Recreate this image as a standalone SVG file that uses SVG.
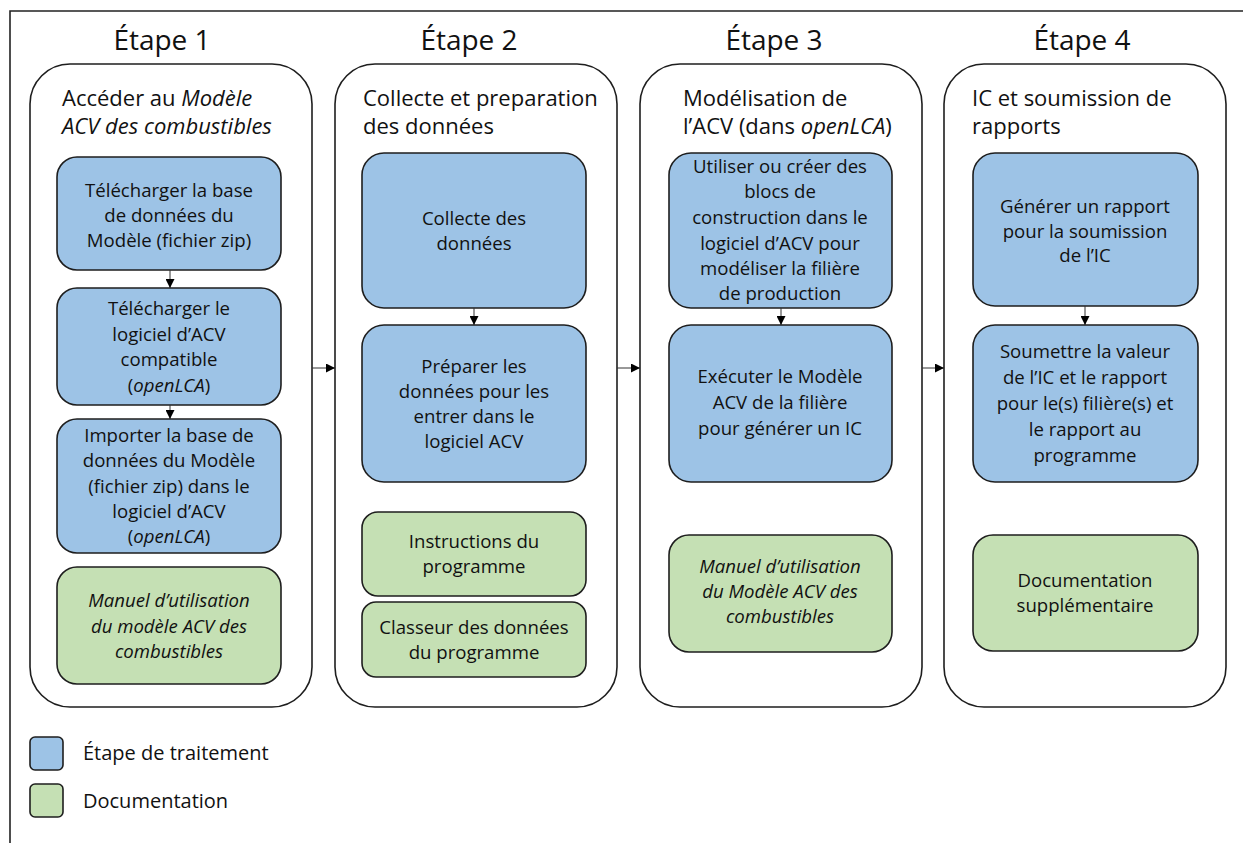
<svg xmlns="http://www.w3.org/2000/svg" width="1243" height="843" viewBox="0 0 1243 843">
<defs>
<style>
text{font-family:"Open Sans","Noto Sans","Liberation Sans",sans-serif;fill:#111}
.ttl{font-size:28px;text-anchor:middle}
.hdr{font-size:22px}
.bx{font-size:18.6px;text-anchor:middle}
.leg{font-size:20px}
.it{font-style:italic}
.panel{fill:#fff;stroke:#1e1e1e;stroke-width:1.6}
.blue{fill:#9DC3E6;stroke:#1e1e1e;stroke-width:1.6}
.green{fill:#C5E0B4;stroke:#1e1e1e;stroke-width:1.6}
.frame{fill:none;stroke:#222;stroke-width:1.6}
.conn{stroke:#333;stroke-width:1;fill:none;marker-end:url(#ah)}
</style>
<marker id="ah" viewBox="0 0 10 10" refX="10" refY="5" markerWidth="9" markerHeight="9" markerUnits="userSpaceOnUse" orient="auto">
<path d="M0,0 L10,5 L0,10 z" fill="#000"/>
</marker>
</defs>
<rect width="1243" height="843" fill="#fff"/>
<path class="frame" d="M10,843 L10,11 L1243,11"/>

<g id="titles">
<text class="ttl" x="162" y="50">Étape 1</text>
<text class="ttl" x="469" y="50">Étape 2</text>
<text class="ttl" x="774" y="50">Étape 3</text>
<text class="ttl" x="1082" y="50">Étape 4</text>
</g>

<g id="panel1">
<rect class="panel" x="30" y="64" width="282" height="643" rx="40"/>
<text class="hdr" x="62" y="106">Accéder au <tspan class="it">Modèle</tspan></text>
<text class="hdr it" x="62" y="134">ACV des combustibles</text>
</g>
<g id="panel2">
<rect class="panel" x="335" y="64" width="282" height="643" rx="40"/>
<text class="hdr" x="363" y="106">Collecte et preparation</text>
<text class="hdr" x="363" y="134">des données</text>
</g>
<g id="panel3">
<rect class="panel" x="640" y="64" width="282" height="643" rx="40"/>
<text class="hdr" x="683" y="106">Modélisation de</text>
<text class="hdr" x="683" y="134">l’ACV (dans <tspan class="it">openLCA</tspan>)</text>
</g>
<g id="panel4">
<rect class="panel" x="944" y="64" width="282" height="643" rx="40"/>
<text class="hdr" x="972" y="106">IC et soumission de</text>
<text class="hdr" x="972" y="134">rapports</text>
</g>

<g id="c1b1">
<rect class="blue" x="57" y="157" width="224" height="113" rx="20"/>
<text class="bx" x="169" y="197">Télécharger la base</text>
<text class="bx" x="169" y="222">de données du</text>
<text class="bx" x="169" y="247">Modèle (fichier zip)</text>
</g>
<g id="c1b2">
<rect class="blue" x="57" y="288" width="224" height="117" rx="20"/>
<text class="bx" x="169" y="315">Télécharger le</text>
<text class="bx" x="169" y="341">logiciel d’ACV</text>
<text class="bx" x="169" y="366">compatible</text>
<text class="bx" x="169" y="392">(<tspan class="it">openLCA</tspan>)</text>
</g>
<g id="c1b3">
<rect class="blue" x="57" y="419" width="224" height="134" rx="20"/>
<text class="bx" x="169" y="442">Importer la base de</text>
<text class="bx" x="169" y="467">données du Modèle</text>
<text class="bx" x="169" y="493">(fichier zip) dans le</text>
<text class="bx" x="169" y="518">logiciel d’ACV</text>
<text class="bx" x="169" y="543">(<tspan class="it">openLCA</tspan>)</text>
</g>
<g id="c1g">
<rect class="green" x="57" y="567" width="224" height="117" rx="20"/>
<text class="bx it" x="169" y="607">Manuel d’utilisation</text>
<text class="bx it" x="169" y="633">du modèle ACV des</text>
<text class="bx it" x="169" y="658">combustibles</text>
</g>

<g id="c2b1">
<rect class="blue" x="362" y="153" width="224" height="155" rx="22"/>
<text class="bx" x="474" y="225">Collecte des</text>
<text class="bx" x="474" y="250">données</text>
</g>
<g id="c2b2">
<rect class="blue" x="362" y="325" width="224" height="157" rx="22"/>
<text class="bx" x="474" y="373">Préparer les</text>
<text class="bx" x="474" y="398">données pour les</text>
<text class="bx" x="474" y="423">entrer dans le</text>
<text class="bx" x="474" y="448">logiciel ACV</text>
</g>
<g id="c2g1">
<rect class="green" x="362" y="512" width="224" height="84" rx="16"/>
<text class="bx" x="474" y="548">Instructions du</text>
<text class="bx" x="474" y="573">programme</text>
</g>
<g id="c2g2">
<rect class="green" x="362" y="602" width="224" height="75" rx="14"/>
<text class="bx" x="474" y="634">Classeur des données</text>
<text class="bx" x="474" y="659">du programme</text>
</g>

<g id="c3b1">
<rect class="blue" x="669" y="153" width="223" height="155" rx="22"/>
<text class="bx" x="780" y="173">Utiliser ou créer des</text>
<text class="bx" x="780" y="198">blocs de</text>
<text class="bx" x="780" y="224">construction dans le</text>
<text class="bx" x="780" y="250">logiciel d’ACV pour</text>
<text class="bx" x="780" y="275">modéliser la filière</text>
<text class="bx" x="780" y="300">de production</text>
</g>
<g id="c3b2">
<rect class="blue" x="669" y="325" width="223" height="157" rx="22"/>
<text class="bx" x="780" y="383">Exécuter le Modèle</text>
<text class="bx" x="780" y="409">ACV de la filière</text>
<text class="bx" x="780" y="435">pour générer un IC</text>
</g>
<g id="c3g">
<rect class="green" x="669" y="535" width="223" height="117" rx="20"/>
<text class="bx it" x="780" y="573">Manuel d’utilisation</text>
<text class="bx it" x="780" y="598">du Modèle ACV des</text>
<text class="bx it" x="780" y="623">combustibles</text>
</g>

<g id="c4b1">
<rect class="blue" x="973" y="153" width="225" height="153" rx="22"/>
<text class="bx" x="1085" y="213">Générer un rapport</text>
<text class="bx" x="1085" y="238">pour la soumission</text>
<text class="bx" x="1085" y="262">de l’IC</text>
</g>
<g id="c4b2">
<rect class="blue" x="973" y="325" width="225" height="157" rx="22"/>
<text class="bx" x="1085" y="358">Soumettre la valeur</text>
<text class="bx" x="1085" y="384">de l’IC et le rapport</text>
<text class="bx" x="1085" y="410">pour le(s) filière(s) et</text>
<text class="bx" x="1085" y="436">le rapport au</text>
<text class="bx" x="1085" y="462">programme</text>
</g>
<g id="c4g">
<rect class="green" x="973" y="535" width="225" height="116" rx="20"/>
<text class="bx" x="1085" y="587">Documentation</text>
<text class="bx" x="1085" y="612">supplémentaire</text>
</g>

<g id="connectors">
<line class="conn" x1="170" y1="270" x2="170" y2="288"/>
<line class="conn" x1="170" y1="405" x2="170" y2="419"/>
<line class="conn" x1="474" y1="308" x2="474" y2="325"/>
<line class="conn" x1="781" y1="308" x2="781" y2="325"/>
<line class="conn" x1="1085" y1="306" x2="1085" y2="325"/>
<line class="conn" x1="312" y1="368" x2="335" y2="368"/>
<line class="conn" x1="617" y1="368" x2="640" y2="368"/>
<line class="conn" x1="922" y1="368" x2="944" y2="368"/>
</g>

<g id="legend">
<rect class="blue" x="30" y="737" width="33" height="33" rx="5"/>
<text class="leg" x="83" y="760">Étape de traitement</text>
<rect class="green" x="30" y="784" width="33" height="33" rx="5"/>
<text class="leg" x="83" y="808">Documentation</text>
</g>
</svg>
